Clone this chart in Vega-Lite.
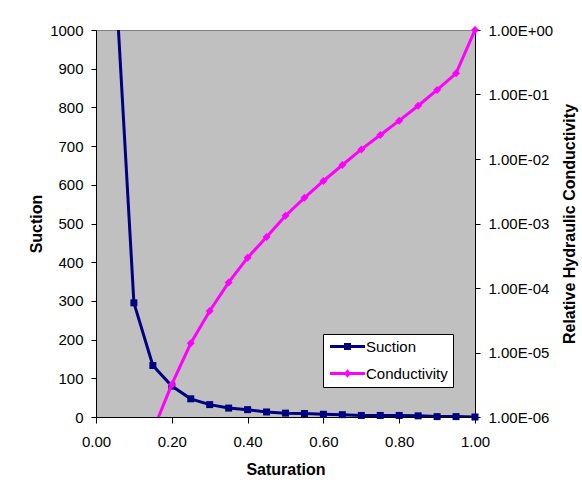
{
  "$schema": "https://vega.github.io/schema/vega-lite/v6.json",
  "width": 379,
  "height": 387,
  "autosize": {"type": "none"},
  "padding": {"left": 96, "top": 30, "right": 107, "bottom": 79},
  "background": "white",
  "config": {
    "view": {"fill": "#C0C0C0", "stroke": "#808080", "strokeWidth": 1},
    "font": "Liberation Sans",
    "axis": {
      "grid": false,
      "domainColor": "#000000",
      "tickColor": "#000000",
      "labelColor": "#000000",
      "titleColor": "#000000",
      "labelFont": "Liberation Sans",
      "labelFontSize": 15,
      "titleFont": "Liberation Sans",
      "titleFontSize": 16,
      "titleFontWeight": "bold",
      "labelFlush": false,
      "labelOverlap": false
    }
  },
  "datasets": {
    "suction": [
      {"saturation": 0.05, "suction": 1160},
      {"saturation": 0.10, "suction": 295},
      {"saturation": 0.15, "suction": 133},
      {"saturation": 0.20, "suction": 80},
      {"saturation": 0.25, "suction": 47},
      {"saturation": 0.30, "suction": 32},
      {"saturation": 0.35, "suction": 23},
      {"saturation": 0.40, "suction": 19},
      {"saturation": 0.45, "suction": 13},
      {"saturation": 0.50, "suction": 10},
      {"saturation": 0.55, "suction": 9},
      {"saturation": 0.60, "suction": 7},
      {"saturation": 0.65, "suction": 6},
      {"saturation": 0.70, "suction": 4},
      {"saturation": 0.75, "suction": 4},
      {"saturation": 0.80, "suction": 4},
      {"saturation": 0.85, "suction": 3},
      {"saturation": 0.90, "suction": 1},
      {"saturation": 0.95, "suction": 1},
      {"saturation": 1.00, "suction": 0}
    ],
    "cond": [
      {"saturation": 0.15, "k": 6.1e-7},
      {"saturation": 0.20, "k": 3.2e-6},
      {"saturation": 0.25, "k": 1.39e-5},
      {"saturation": 0.30, "k": 4.4e-5},
      {"saturation": 0.35, "k": 1.22e-4},
      {"saturation": 0.40, "k": 2.95e-4},
      {"saturation": 0.45, "k": 6.2e-4},
      {"saturation": 0.50, "k": 1.32e-3},
      {"saturation": 0.55, "k": 2.5e-3},
      {"saturation": 0.60, "k": 4.56e-3},
      {"saturation": 0.65, "k": 8.07e-3},
      {"saturation": 0.70, "k": 1.41e-2},
      {"saturation": 0.75, "k": 2.36e-2},
      {"saturation": 0.80, "k": 3.93e-2},
      {"saturation": 0.85, "k": 6.7e-2},
      {"saturation": 0.90, "k": 0.1175},
      {"saturation": 0.95, "k": 0.213},
      {"saturation": 1.00, "k": 1.0}
    ]
  },
  "layer": [
    {
      "data": {"name": "suction"},
      "encoding": {
        "x": {
          "field": "saturation", "type": "quantitative",
          "scale": {"domain": [0, 1], "nice": false, "zero": false},
          "axis": {
            "title": "Saturation",
            "values": [0, 0.05, 0.1, 0.15, 0.2, 0.25, 0.3, 0.35, 0.4, 0.45, 0.5, 0.55, 0.6, 0.65, 0.7, 0.75, 0.8, 0.85, 0.9, 0.95, 1],
            "labelExpr": "(round(datum.value*100) % 20 == 0) ? format(datum.value, '.2f') : ''",
            "tickSize": 6,
            "labelPadding": 11,
            "titlePadding": 12
          }
        },
        "y": {
          "field": "suction", "type": "quantitative",
          "scale": {"domain": [0, 1000], "nice": false},
          "axis": {
            "orient": "left",
            "title": "Suction",
            "values": [0, 100, 200, 300, 400, 500, 600, 700, 800, 900, 1000],
            "format": "d",
            "tickSize": 5,
            "labelPadding": 8,
            "titlePadding": 5
          }
        }
      },
      "layer": [
        {
          "mark": {"type": "line", "color": "#000080", "strokeWidth": 3, "clip": true}
        },
        {
          "transform": [{"filter": "datum.suction <= 1000"}],
          "mark": {"type": "point", "shape": "square", "filled": true, "opacity": 1, "size": 49},
          "encoding": {
            "color": {
              "datum": "Suction",
              "type": "nominal",
              "scale": {"domain": ["Suction", "Conductivity"], "range": ["#000080", "#FF00FF"]},
              "legend": {
                "title": null,
                "orient": "none",
                "legendX": 227,
                "legendY": 304,
                "padding": 5,
                "strokeColor": "#000000",
                "fillColor": "#FFFFFF",
                "symbolSize": 100,
                "symbolOffset": 12,
                "labelOffset": 11,
                "rowPadding": 11,
                "labelFontSize": 15,
                "labelFont": "Liberation Sans",
                "labelColor": "#000000",
                "symbolStrokeWidth": 0,
                "symbolOpacity": 1,
                "encode": {
                  "symbols": {
                    "update": {
                      "shape": {"signal": "datum.value == 'Suction' ? 'M-3.5,-0.3H3.5V0.3H-3.5Z M-0.7,-0.7H0.7V0.7H-0.7Z' : 'M-3.5,-0.3H3.5V0.3H-3.5Z M0,-0.85L0.7,0L0,0.85L-0.7,0Z'"},
                      "fill": {"signal": "datum.value == 'Suction' ? '#000080' : '#FF00FF'"},
                      "strokeWidth": {"value": 0},
                      "opacity": {"value": 1}
                    }
                  }
                }
              }
            }
          }
        }
      ]
    },
    {
      "data": {"name": "cond"},
      "encoding": {
        "x": {"field": "saturation", "type": "quantitative"},
        "y": {
          "field": "k", "type": "quantitative",
          "scale": {"type": "log", "domain": [0.000001, 1], "nice": false},
          "axis": {
            "orient": "right",
            "title": "Relative Hydraulic Conductivity",
            "titleAngle": 270,
            "titleBaseline": "top",
            "values": [0.000001, 0.00001, 0.0001, 0.001, 0.01, 0.1, 1],
            "labelExpr": "'1.00E' + (datum.value >= 1 ? '+' : '-') + '0' + abs(round(log(datum.value)/LN10))",
            "tickSize": 5,
            "labelPadding": 8,
            "titlePadding": 9
          }
        }
      },
      "layer": [
        {
          "mark": {"type": "line", "color": "#FF00FF", "strokeWidth": 3, "clip": true}
        },
        {
          "transform": [{"filter": "datum.k >= 0.000001"}],
          "mark": {"type": "point", "shape": "diamond", "filled": true, "opacity": 1, "size": 64},
          "encoding": {
            "color": {"datum": "Conductivity", "type": "nominal"}
          }
        }
      ]
    }
  ],
  "resolve": {"scale": {"y": "independent"}}
}
